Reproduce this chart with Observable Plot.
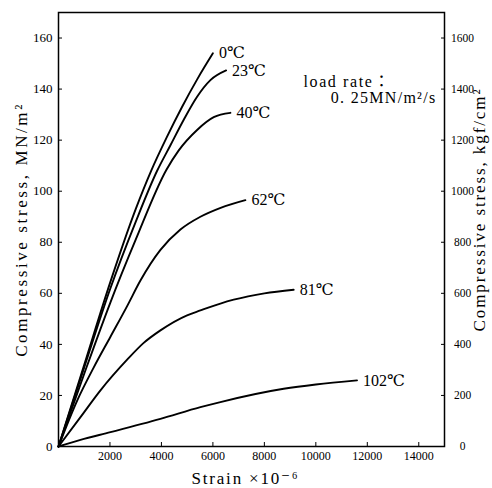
<!DOCTYPE html>
<html>
<head>
<meta charset="utf-8">
<script src="https://cdn.jsdelivr.net/npm/d3@7"></script>
<script src="https://cdn.jsdelivr.net/npm/@observablehq/plot@0.6"></script>
<style>
  html, body { margin: 0; padding: 0; background: #fff; }
  svg { display: block; }
</style>
</head>
<body>
<div id="chart"></div>
<script>
// ---- Data (strain ×10^-6, compressive stress MN/m²) ----
const seriesNames = ["0℃", "23℃", "40℃", "62℃", "81℃", "102℃"];

const strain_0 = [0, 1000, 2000, 3000, 3600, 4200, 4800, 5400, 6000];
const stress_0 = [0, 32, 64, 93, 108, 121, 133, 144, 154];

const strain_23 = [0, 1000, 2000, 3000, 3833, 4350, 4867, 5386, 5903, 6513];
const stress_23 = [0, 31, 61.5, 88, 108, 118, 128, 137, 143.5, 147.3];

const strain_40 = [0, 1000, 2000, 3000, 4200, 4673, 5386, 6033, 6680];
const stress_40 = [0, 28.5, 56, 81, 108.5, 116, 124, 129, 130.7];

const strain_62 = [0, 726, 1371, 2019, 2667, 3184, 3961, 4738, 5515, 6300, 7262];
const stress_62 = [0, 18, 31, 43, 55, 65, 77, 85, 90, 93.5, 96.5];

const strain_81 = [0, 854, 1631, 2667, 3300, 3961, 4997, 5515, 6291, 6808, 8000, 9139];
const stress_81 = [0, 11.5, 22, 34, 40.5, 45.5, 51.4, 53.3, 56, 57.5, 60, 61.4];

const strain_102 = [0, 854, 2019, 3961, 5515, 6291, 8750, 10000, 11600];
const stress_102 = [0, 2.6, 5.6, 10.8, 15.4, 17.4, 22.6, 24.3, 25.9];

const xTicks = [2000, 4000, 6000, 8000, 10000, 12000, 14000];
const yTicks = [0, 20, 40, 60, 80, 100, 120, 140, 160];          // MN/m²
const yTicksRight = [0, 200, 400, 600, 800, 1000, 1200, 1400, 1600]; // kgf/cm²

const xLabel = "Strain ×10⁻⁶";
const yLabelLeft = "Compressive stress, MN/m²";
const yLabelRight = "Compressive stress, kgf/cm²";
const noteLine1 = "load rate：";
const noteLine2 = "0. 25MN/m²/s";

// ---- Build table ----
const strains = [strain_0, strain_23, strain_40, strain_62, strain_81, strain_102];
const stresses = [stress_0, stress_23, stress_40, stress_62, stress_81, stress_102];
const rows = [];
const ends = [];
seriesNames.forEach((name, i) => {
  strains[i].forEach((s, j) => rows.push({series: name, strain: s, stress: stresses[i][j]}));
  const n = strains[i].length - 1;
  ends.push({series: name, strain: strains[i][n], stress: stresses[i][n]});
});

const serif = "'Liberation Serif', 'DejaVu Serif', 'Noto Sans CJK JP', serif";

const chart = Plot.plot({
  width: 492,
  height: 488,
  marginLeft: 58,
  marginRight: 48,
  marginTop: 12,
  marginBottom: 42,
  style: {fontFamily: serif, color: "#000", background: "#fff"},
  x: {domain: [0, 15000]},
  y: {domain: [0, 170]},
  marks: [
    Plot.axisX({ticks: xTicks, tickSize: -4, tickPadding: 9, label: null, fontSize: 12, tickFormat: d => String(d)}),
    Plot.axisY({anchor: "left", ticks: yTicks, tickSize: -4, tickPadding: 10, label: null, fontSize: 13}),
    Plot.axisY({anchor: "right", ticks: yTicks, tickSize: -4, tickPadding: 22, textAnchor: "middle",
                label: null, fontSize: 11.5, tickFormat: (d, i) => String(yTicksRight[i])}),
    Plot.frame({stroke: "#000", strokeWidth: 1.5}),
    Plot.line(rows, {x: "strain", y: "stress", z: "series", stroke: "#000", strokeWidth: 1.9, curve: "monotone-x"}),
    Plot.text(ends, {x: "strain", y: "stress", text: "series", textAnchor: "start", dx: 6, fontSize: 16, fill: "#000"}),
    Plot.text([noteLine1], {frameAnchor: "top-right", textAnchor: "start", lineAnchor: "middle", dx: -141, dy: 69, fontSize: 16, fill: "#000"}),
    Plot.text([noteLine2], {frameAnchor: "top-right", textAnchor: "end", lineAnchor: "middle", dx: -8, dy: 85, fontSize: 16, fill: "#000"}),
    Plot.text([xLabel], {frameAnchor: "bottom", textAnchor: "middle", lineAnchor: "middle", dx: -6, dy: 32, fontSize: 17, fill: "#000"}),
    Plot.text([yLabelLeft], {frameAnchor: "left", textAnchor: "middle", lineAnchor: "middle", rotate: -90, dx: -37, dy: 0, fontSize: 17, fill: "#000"}),
    Plot.text([yLabelRight], {frameAnchor: "right", textAnchor: "middle", lineAnchor: "middle", rotate: -90, dx: 35, dy: -20, fontSize: 17, fill: "#000"})
  ]
});

// widen the letter spacing of titles to match the original typesetting
chart.querySelectorAll("text").forEach(t => {
  const s = t.textContent;
  let ls = null;
  if (s === yLabelLeft) ls = 2.6;
  else if (s === yLabelRight) ls = 1.9;
  else if (s === xLabel) ls = 1.8;
  else if (s === noteLine1) ls = 1.6;
  else if (s === noteLine2) ls = 1.3;
  if (ls != null) t.setAttribute("letter-spacing", ls);
});

document.getElementById("chart").appendChild(chart);
</script>
</body>
</html>
